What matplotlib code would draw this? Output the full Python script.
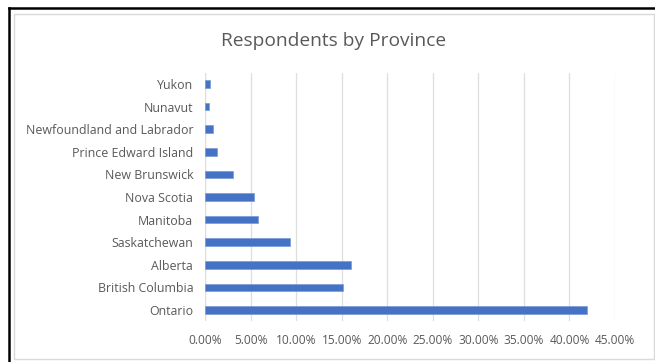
import matplotlib
matplotlib.use("Agg")
import matplotlib.pyplot as plt
from matplotlib.patches import Rectangle
from matplotlib.lines import Line2D
from matplotlib.ticker import FuncFormatter, MultipleLocator

provinces = ["Ontario", "British Columbia", "Alberta", "Saskatchewan", "Manitoba",
             "Nova Scotia", "New Brunswick", "Prince Edward Island",
             "Newfoundland and Labrador", "Nunavut", "Yukon"]
shares = [41.96, 15.17, 16.04, 9.36, 5.85, 5.40, 3.10, 1.35, 0.90, 0.45, 0.50]

W, H = 655, 362
fig = plt.figure(figsize=(W / 100, H / 100), dpi=100)
fig.patch.set_facecolor("white")

# axes placement in pixels
x0, x1 = 205, 615
y_top, y_bot = 72.7, 321.3
ax = fig.add_axes([x0 / W, 1 - y_bot / H, (x1 - x0) / W, (y_bot - y_top) / H])

font = "Open Sans"
grey_text = "#595959"

ax.barh(range(len(provinces)), shares, height=0.34, color="#4472C4",
        edgecolor="#7a9ad6", linewidth=0.5, zorder=3)
ax.set_ylim(-0.5, len(provinces) - 0.5)
ax.set_xlim(0, 45)
ax.xaxis.set_major_locator(MultipleLocator(5))
ax.xaxis.set_major_formatter(FuncFormatter(lambda v, p: f"{v:.2f}%"))
ax.set_yticks(range(len(provinces)))
ax.set_yticklabels(provinces)
ax.grid(axis="x", color="#dedede", linewidth=0.9, zorder=0)
ax.tick_params(axis="both", length=0, labelcolor=grey_text)
ax.tick_params(axis="x", pad=9, labelsize=8.6)
ax.tick_params(axis="y", pad=8.5, labelsize=8.9)
for lbl in ax.get_xticklabels() + ax.get_yticklabels():
    lbl.set_fontfamily(font)
for s in ax.spines.values():
    s.set_visible(False)
ax.axvline(0, color="#dedede", linewidth=0.9, zorder=1)

fig.text(334 / W, 1 - 40.5 / H, "Respondents by Province", ha="center", va="center",
         fontsize=13.8, color=grey_text, fontfamily=font)

# chart frame
fig.patches.append(Rectangle((14 / W, 1 - 359 / H), (654 - 14) / W, (359 - 14) / H,
                             transform=fig.transFigure, fill=False,
                             edgecolor="#d9d9d9", linewidth=1.0))
fig.lines.append(Line2D([9 / W, 1], [1 - 7.5 / H, 1 - 7.5 / H],
                        transform=fig.transFigure, color="black", linewidth=1.8))
fig.lines.append(Line2D([9 / W, 9 / W], [0, 1 - 7.5 / H],
                        transform=fig.transFigure, color="black", linewidth=1.8))

fig.savefig("out.png", dpi=100)
